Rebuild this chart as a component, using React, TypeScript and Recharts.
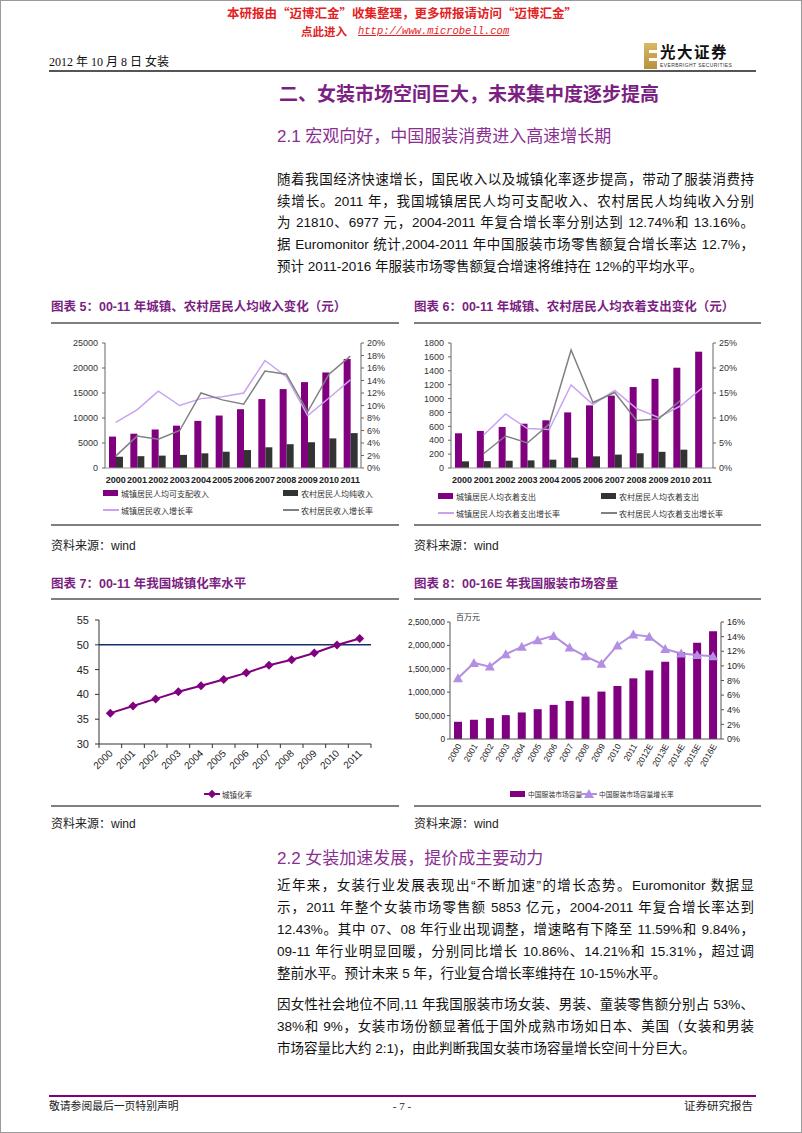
import React from 'react';
import { ComposedChart, Bar, Line, XAxis, YAxis, ReferenceLine } from 'recharts';

const SANS = '"Liberation Sans", Arial, "Noto Sans CJK SC", sans-serif';
const SERIF = '"Liberation Serif", "Noto Sans CJK SC", serif';
const CJK = '"Noto Sans CJK SC", sans-serif';

const PURPLE = '#800080';
const TITLE = '#7B1F82';

// 图表5 / 图表6 / 图表7
const years = ['2000', '2001', '2002', '2003', '2004', '2005', '2006', '2007', '2008', '2009', '2010', '2011'];
const urbanIncome = [6280, 6860, 7703, 8472, 9422, 10493, 11759, 13786, 15781, 17175, 19109, 21810];
const ruralIncome = [2253, 2366, 2476, 2622, 2936, 3255, 3587, 4140, 4761, 5153, 5919, 6977];
const urbanIncomeGrowth = [7.3, 9.3, 12.3, 10.0, 11.1, 11.4, 12.0, 17.2, 14.6, 8.4, 11.2, 14.1];
const ruralIncomeGrowth = [1.9, 5.1, 4.6, 6.0, 12.0, 10.9, 10.2, 15.5, 15.0, 9.0, 15.0, 17.9];

const urbanClothing = [500, 534, 591, 638, 687, 801, 902, 1042, 1166, 1284, 1444, 1675];
const ruralClothing = [96, 99, 105, 110, 120, 149, 168, 193, 212, 233, 264, null];
const urbanClothingGrowth = [null, 6.6, 10.8, 7.9, 7.7, 16.6, 12.7, 15.5, 11.9, 10.1, 12.4, 16.0];
const ruralClothingGrowth = [null, 2.9, 6.4, 5.0, 8.8, 23.6, 13.1, 15.1, 9.5, 9.8, 13.5, null];

const urbanRate = [36.22, 37.66, 39.09, 40.53, 41.76, 42.99, 44.34, 45.89, 46.99, 48.34, 49.95, 51.27];

// 图表8
const marketYears = ['2000', '2001', '2002', '2003', '2004', '2005', '2006', '2007', '2008', '2009', '2010', '2011', '2012E', '2013E', '2014E', '2015E', '2016E'];
const marketSize = [368000, 411000, 446000, 510000, 567000, 637000, 729000, 814000, 906000, 1013000, 1133000, 1296000, 1466000, 1650000, 1855000, 2054000, 2302000];
const marketGrowth = [8.3, 10.4, 9.9, 11.6, 12.6, 13.5, 14.1, 12.5, 11.3, 10.3, 12.8, 14.3, 14.0, 12.3, 11.7, 11.5, 11.3];

const incomeTicks = [0, 5000, 10000, 15000, 20000, 25000];
const incomeRateTicks = [0, 2, 4, 6, 8, 10, 12, 14, 16, 18, 20];
const clothingTicks = [0, 200, 400, 600, 800, 1000, 1200, 1400, 1600, 1800];
const clothingRateTicks = [0, 5, 10, 15, 20, 25];
const urbanRateTicks = [30, 35, 40, 45, 50, 55];
const marketTicks = [0, 500000, 1000000, 1500000, 2000000, 2500000];
const marketRateTicks = [0, 2, 4, 6, 8, 10, 12, 14, 16];

const incomeData = years.map((y, i) => ({
  year: y, urban: urbanIncome[i], rural: ruralIncome[i], urbanRate: urbanIncomeGrowth[i], ruralRate: ruralIncomeGrowth[i],
}));
const clothingData = years.map((y, i) => ({
  year: y, urban: urbanClothing[i], rural: ruralClothing[i], urbanRate: urbanClothingGrowth[i], ruralRate: ruralClothingGrowth[i],
}));
const urbanData = years.map((y, i) => ({ year: y, rate: urbanRate[i] }));
const marketData = marketYears.map((y, i) => ({ year: y, size: marketSize[i], growth: marketGrowth[i] }));

const abs = (left: number, top: number, extra: React.CSSProperties = {}): React.CSSProperties => ({
  position: 'absolute', left, top, ...extra,
});

const YearTick = (p: any) => (
  <text x={p.x} y={p.y + 15} textAnchor="middle" fontSize={9} fontWeight="bold" fill="#222" fontFamily={SANS}>
    {p.payload.value}
  </text>
);

const C7_W = 328, C7_LEFT = 48, C7_RIGHT = 8;
const band7 = (C7_W - C7_LEFT - C7_RIGHT) / years.length;

const SlantTick = (p: any) => {
  const ax = p.x + 3, ay = p.y + 10;
  return (
    <g>
      <line x1={p.x - band7 / 2} x2={p.x - band7 / 2} y1={p.y} y2={p.y + 4} stroke="#333" />
      {p.index === years.length - 1 && (
        <line x1={p.x + band7 / 2} x2={p.x + band7 / 2} y1={p.y} y2={p.y + 4} stroke="#333" />
      )}
      <text x={ax} y={ay} transform={`rotate(-45 ${ax} ${ay})`} textAnchor="end" fontSize={10} fill="#222" fontFamily={SANS}>
        {p.payload.value}
      </text>
    </g>
  );
};

const SteepTick = (p: any) => {
  const ax = p.x + 4, ay = p.y + 7;
  return (
    <text x={ax} y={ay} transform={`rotate(-60 ${ax} ${ay})`} textAnchor="end" fontSize={8.5} fill="#222" fontFamily={SANS}>
      {p.payload.value}
    </text>
  );
};

const Diamond = (p: any) => {
  const { cx, cy } = p;
  if (cx == null || cy == null) return <g key={p.index} />;
  const r = 4.5;
  return <polygon key={p.index} points={`${cx},${cy - r} ${cx + r},${cy} ${cx},${cy + r} ${cx - r},${cy}`} fill={PURPLE} />;
};

const Triangle = (p: any) => {
  const { cx, cy } = p;
  if (cx == null || cy == null) return <g key={p.index} />;
  return <polygon key={p.index} points={`${cx},${cy - 5} ${cx + 5},${cy + 4} ${cx - 5},${cy + 4}`} fill="#B28FE3" />;
};

const Rule = ({ x, y, w, color = '#7f7f7f', h = 2 }: any) => (
  <div style={abs(x, y, { width: w, height: h, background: color })} />
);

const LegendItem = ({ x, y, kind, color, label, marker, size = 8 }: any) => (
  <div style={abs(x, y - 6, { display: 'flex', alignItems: 'center', height: 12, whiteSpace: 'nowrap' })}>
    <span style={{ position: 'relative', display: 'inline-block', width: 16, height: 12, marginRight: 2 }}>
      {kind === 'rect' ? (
        <span style={{ position: 'absolute', left: 0, top: 3, width: 15, height: 6, background: color }} />
      ) : (
        <span style={{ position: 'absolute', left: 0, top: 5, width: 16, height: 1.6, background: color }} />
      )}
      {marker === 'diamond' && (
        <span style={{ position: 'absolute', left: 5, top: 2.5, width: 6, height: 6, background: color, transform: 'rotate(45deg)' }} />
      )}
      {marker === 'triangle' && (
        <span style={{ position: 'absolute', left: 3, top: 1, width: 0, height: 0, borderLeft: '5px solid transparent', borderRight: '5px solid transparent', borderBottom: `9px solid ${color}` }} />
      )}
    </span>
    <span style={{ fontFamily: CJK, fontSize: size, color: '#333' }}>{label}</span>
  </div>
);

const Line1 = ({ y, text, last = false }: { y: number; text: string; last?: boolean }) => (
  <div
    style={abs(276, y - 10, {
      width: 477, lineHeight: '20px', fontSize: 13.5, fontFamily: SANS, color: '#111',
      textAlign: last ? 'left' : 'justify', textAlignLast: last ? 'left' : 'justify',
    } as React.CSSProperties)}
  >
    {text}
  </div>
);

const FigTitle = ({ x, y, text }: any) => (
  <div style={abs(x, y - 9, { fontFamily: SANS, fontSize: 12.5, fontWeight: 'bold', color: TITLE, lineHeight: '18px', whiteSpace: 'nowrap' })}>
    {text}
  </div>
);

const Source = ({ x, y }: any) => (
  <div style={abs(x, y - 8, { fontFamily: SANS, fontSize: 12, color: '#222', lineHeight: '16px' })}>资料来源：wind</div>
);

const axisTick = { fontSize: 9, fill: '#333', fontFamily: SANS };

export default function App() {
  return (
    <div style={abs(0, 0, { width: 802, height: 1133, background: '#fff', overflow: 'hidden', boxSizing: 'border-box', border: '1px solid #9a9a9a' })}>
      {/* header */}
      <div style={abs(0, 3, { width: 802, textAlign: 'center', fontFamily: CJK, fontWeight: 'bold', fontSize: 12.5, color: '#E3211F', lineHeight: '18px' })}>
        本研报由“迈博汇金”收集整理，更多研报请访问“迈博汇金”
      </div>
      <div style={abs(300, 21, { fontFamily: CJK, fontWeight: 'bold', fontSize: 11.5, color: '#E3211F', lineHeight: '18px' })}>点此进入</div>
      <div style={abs(357, 21, { fontFamily: '"Liberation Mono", monospace', fontStyle: 'italic', fontSize: 10.5, color: '#E3211F', lineHeight: '18px', textDecoration: 'underline' })}>
        http://www.microbell.com
      </div>
      <div style={abs(48, 52, { fontFamily: SERIF, fontSize: 12, color: '#111', lineHeight: '18px', whiteSpace: 'pre' })}>2012 年 10 月 8 日 女装</div>
      {/* logo */}
      <div style={abs(643, 42, { width: 13, height: 26, background: 'linear-gradient(#D9B866, #B8913C)' })}>
        <div style={abs(5, 7, { width: 8, height: 3, background: '#fff' })} />
        <div style={abs(5, 15, { width: 8, height: 3, background: '#fff' })} />
      </div>
      <div style={abs(659, 41, { fontFamily: CJK, fontWeight: 'bold', fontSize: 15.5, color: '#111', lineHeight: '18px', letterSpacing: 1.5 })}>光大证券</div>
      <div style={abs(659, 61, { fontFamily: SANS, fontSize: 5, color: '#333', lineHeight: '6px', letterSpacing: 0.4 })}>EVERBRIGHT SECURITIES</div>
      <Rule x={48} y={69} w={707} color="#555" />

      <div style={abs(278, 80, { fontFamily: CJK, fontWeight: 'bold', fontSize: 19, color: TITLE, lineHeight: '24px', whiteSpace: 'nowrap' })}>
        二、女装市场空间巨大，未来集中度逐步提高
      </div>
      <div style={abs(276, 125, { fontFamily: SANS, fontSize: 17, color: '#8A2F91', lineHeight: '22px', whiteSpace: 'nowrap' })}>
        2.1 宏观向好，中国服装消费进入高速增长期
      </div>

      <Line1 y={179} text="随着我国经济快速增长，国民收入以及城镇化率逐步提高，带动了服装消费持" />
      <Line1 y={201} text="续增长。2011 年，我国城镇居民人均可支配收入、农村居民人均纯收入分别" />
      <Line1 y={222} text="为 21810、6977 元，2004-2011 年复合增长率分别达到 12.74%和 13.16%。" />
      <Line1 y={244} text="据 Euromonitor 统计,2004-2011 年中国服装市场零售额复合增长率达 12.7%，" />
      <Line1 y={266} text="预计 2011-2016 年服装市场零售额复合增速将维持在 12%的平均水平。" last />

      {/* 图表5 & 6 */}
      <FigTitle x={50} y={306} text="图表 5：00-11 年城镇、农村居民人均收入变化（元）" />
      <FigTitle x={413} y={306} text="图表 6：00-11 年城镇、农村居民人均衣着支出变化（元）" />
      <Rule x={50} y={321} w={348} />
      <Rule x={413} y={321} w={347} />

      <div style={abs(50, 330)}>
        <ComposedChart width={340} height={155} data={incomeData} margin={{ top: 12, right: 0, bottom: 0, left: 0 }} barGap={0}>
          <XAxis dataKey="year" interval={0} height={18} tickLine={false} tickSize={0} tickMargin={0} axisLine={{ stroke: '#999' }} tick={<YearTick />} />
          <YAxis yAxisId="l" width={54} domain={[0, 25000]} ticks={incomeTicks} interval={0} tickSize={3} tickMargin={4} axisLine={{ stroke: '#666' }} tickLine={{ stroke: '#666' }} tick={axisTick} />
          <YAxis yAxisId="r" orientation="right" width={30} domain={[0, 20]} ticks={incomeRateTicks} interval={0} tickSize={3} tickMargin={3} tickFormatter={(v) => `${v}%`} axisLine={{ stroke: '#666' }} tickLine={{ stroke: '#666' }} tick={axisTick} />
          <Bar yAxisId="l" dataKey="urban" fill={PURPLE} barSize={7} isAnimationActive={false} />
          <Bar yAxisId="l" dataKey="rural" fill="#333333" barSize={7} isAnimationActive={false} />
          <Line yAxisId="r" type="linear" dataKey="urbanRate" stroke="#C9A2F2" strokeWidth={1.5} dot={false} isAnimationActive={false} />
          <Line yAxisId="r" type="linear" dataKey="ruralRate" stroke="#808080" strokeWidth={1.5} dot={false} isAnimationActive={false} />
        </ComposedChart>
      </div>
      <LegendItem x={102} y={492} kind="rect" color={PURPLE} label="城镇居民人均可支配收入" />
      <LegendItem x={282} y={492} kind="rect" color="#333" label="农村居民人均纯收入" />
      <LegendItem x={102} y={509} kind="line" color="#C9A2F2" label="城镇居民收入增长率" />
      <LegendItem x={282} y={509} kind="line" color="#808080" label="农村居民收入增长率" />

      <div style={abs(405, 330)}>
        <ComposedChart width={337} height={155} data={clothingData} margin={{ top: 12, right: 0, bottom: 0, left: 0 }} barGap={0}>
          <XAxis dataKey="year" interval={0} height={18} tickLine={false} tickSize={0} tickMargin={0} axisLine={{ stroke: '#999' }} tick={<YearTick />} />
          <YAxis yAxisId="l" width={45} domain={[0, 1800]} ticks={clothingTicks} interval={0} tickSize={3} tickMargin={4} axisLine={{ stroke: '#666' }} tickLine={{ stroke: '#666' }} tick={axisTick} />
          <YAxis yAxisId="r" orientation="right" width={30} domain={[0, 25]} ticks={clothingRateTicks} interval={0} tickSize={3} tickMargin={3} tickFormatter={(v) => `${v}%`} axisLine={{ stroke: '#666' }} tickLine={{ stroke: '#666' }} tick={axisTick} />
          <Bar yAxisId="l" dataKey="urban" fill={PURPLE} barSize={7} isAnimationActive={false} />
          <Bar yAxisId="l" dataKey="rural" fill="#333333" barSize={7} isAnimationActive={false} />
          <Line yAxisId="r" type="linear" dataKey="urbanRate" stroke="#C9A2F2" strokeWidth={1.5} dot={false} isAnimationActive={false} />
          <Line yAxisId="r" type="linear" dataKey="ruralRate" stroke="#808080" strokeWidth={1.5} dot={false} isAnimationActive={false} />
        </ComposedChart>
      </div>
      <LegendItem x={437} y={495} kind="rect" color={PURPLE} label="城镇居民人均衣着支出" />
      <LegendItem x={600} y={495} kind="rect" color="#333" label="农村居民人均衣着支出" />
      <LegendItem x={437} y={512} kind="line" color="#C9A2F2" label="城镇居民人均衣着支出增长率" />
      <LegendItem x={600} y={512} kind="line" color="#808080" label="农村居民人均衣着支出增长率" />

      <Rule x={50} y={523} w={348} />
      <Rule x={413} y={523} w={347} />
      <Source x={50} y={545} />
      <Source x={413} y={545} />

      {/* 图表7 & 8 */}
      <FigTitle x={50} y={583} text="图表 7：00-11 年我国城镇化率水平" />
      <FigTitle x={413} y={583} text="图表 8：00-16E 年我国服装市场容量" />
      <Rule x={50} y={597} w={348} />
      <Rule x={413} y={597} w={347} />

      <div style={abs(50, 605)}>
        <ComposedChart width={C7_W} height={170} data={urbanData} margin={{ top: 14, right: C7_RIGHT, bottom: 0, left: 0 }}>
          <XAxis dataKey="year" scale="band" interval={0} height={32} tickLine={false} tickSize={0} tickMargin={0} axisLine={{ stroke: '#333' }} tick={<SlantTick />} />
          <YAxis width={C7_LEFT} domain={[30, 55]} ticks={urbanRateTicks} interval={0} tickSize={4} tickMargin={6} axisLine={{ stroke: '#333' }} tickLine={{ stroke: '#333' }} tick={{ fontSize: 11, fill: '#222', fontFamily: SANS }} />
          <ReferenceLine y={50} stroke="#16306A" strokeWidth={1.6} />
          <Line type="linear" dataKey="rate" stroke={PURPLE} strokeWidth={2} dot={(p: any) => <Diamond key={p.index} {...p} />} isAnimationActive={false} />
        </ComposedChart>
      </div>
      <LegendItem x={203} y={793} kind="line" color={PURPLE} marker="diamond" label="城镇化率" size={7.5} />

      <div style={abs(405, 605)}>
        <ComposedChart width={345} height={173} data={marketData} margin={{ top: 16, right: 0, bottom: 0, left: 0 }}>
          <XAxis dataKey="year" interval={0} height={40} tickLine={false} tickSize={0} tickMargin={0} axisLine={{ stroke: '#555' }} tick={<SteepTick />} />
          <YAxis yAxisId="l" width={44} domain={[0, 2500000]} ticks={marketTicks} interval={0} tickSize={3} tickMargin={2} tickFormatter={(v) => v.toLocaleString('en-US')} axisLine={{ stroke: '#555' }} tickLine={{ stroke: '#555' }} tick={{ fontSize: 8.3, fill: '#222', fontFamily: SANS }} />
          <YAxis yAxisId="r" orientation="right" width={30} domain={[0, 16]} ticks={marketRateTicks} interval={0} tickSize={3} tickMargin={3} tickFormatter={(v) => `${v}%`} axisLine={{ stroke: '#555' }} tickLine={{ stroke: '#555' }} tick={{ fontSize: 9, fill: '#222', fontFamily: SANS }} />
          <Bar yAxisId="l" dataKey="size" fill={PURPLE} barSize={8} isAnimationActive={false} />
          <Line yAxisId="r" type="linear" dataKey="growth" stroke="#B28FE3" strokeWidth={2} dot={(p: any) => <Triangle key={p.index} {...p} />} isAnimationActive={false} />
        </ComposedChart>
      </div>
      <div style={abs(455, 610, { fontFamily: CJK, fontSize: 8, color: '#333', lineHeight: '12px' })}>百万元</div>
      <LegendItem x={509} y={793} kind="rect" color={PURPLE} label="中国服装市场容量" size={6.8} />
      <LegendItem x={580} y={793} kind="line" color="#B28FE3" marker="triangle" label="中国服装市场容量增长率" size={6.8} />

      <Rule x={50} y={804} w={348} />
      <Rule x={413} y={804} w={347} />
      <Source x={50} y={823} />
      <Source x={413} y={823} />

      <div style={abs(276, 847, { fontFamily: SANS, fontSize: 17, color: '#8A2F91', lineHeight: '22px', whiteSpace: 'nowrap' })}>
        2.2 女装加速发展，提价成主要动力
      </div>

      <Line1 y={885} text="近年来，女装行业发展表现出“不断加速”的增长态势。Euromonitor 数据显" />
      <Line1 y={907} text="示，2011 年整个女装市场零售额 5853 亿元，2004-2011 年复合增长率达到" />
      <Line1 y={929} text="12.43%。其中 07、08 年行业出现调整，增速略有下降至 11.59%和 9.84%，" />
      <Line1 y={951} text="09-11 年行业明显回暖，分别同比增长 10.86%、14.21%和 15.31%，超过调" />
      <Line1 y={973} text="整前水平。预计未来 5 年，行业复合增长率维持在 10-15%水平。" last />

      <Line1 y={1004} text="因女性社会地位不同,11 年我国服装市场女装、男装、童装零售额分别占 53%、" />
      <Line1 y={1026} text="38%和 9%，女装市场份额显著低于国外成熟市场如日本、美国（女装和男装" />
      <Line1 y={1048} text="市场容量比大约 2:1)，由此判断我国女装市场容量增长空间十分巨大。" last />

      {/* footer */}
      <Rule x={48} y={1094} w={707} color={PURPLE} />
      <div style={abs(48, 1097, { fontFamily: SERIF, fontSize: 10.8, color: '#222', lineHeight: '16px' })}>敬请参阅最后一页特别声明</div>
      <div style={abs(0, 1097, { width: 802, textAlign: 'center', fontFamily: SERIF, fontSize: 11, color: '#222', lineHeight: '16px' })}>- 7 -</div>
      <div style={abs(652, 1097, { width: 100, textAlign: 'right', fontFamily: SERIF, fontSize: 11.5, color: '#222', lineHeight: '16px' })}>证券研究报告</div>
    </div>
  );
}
